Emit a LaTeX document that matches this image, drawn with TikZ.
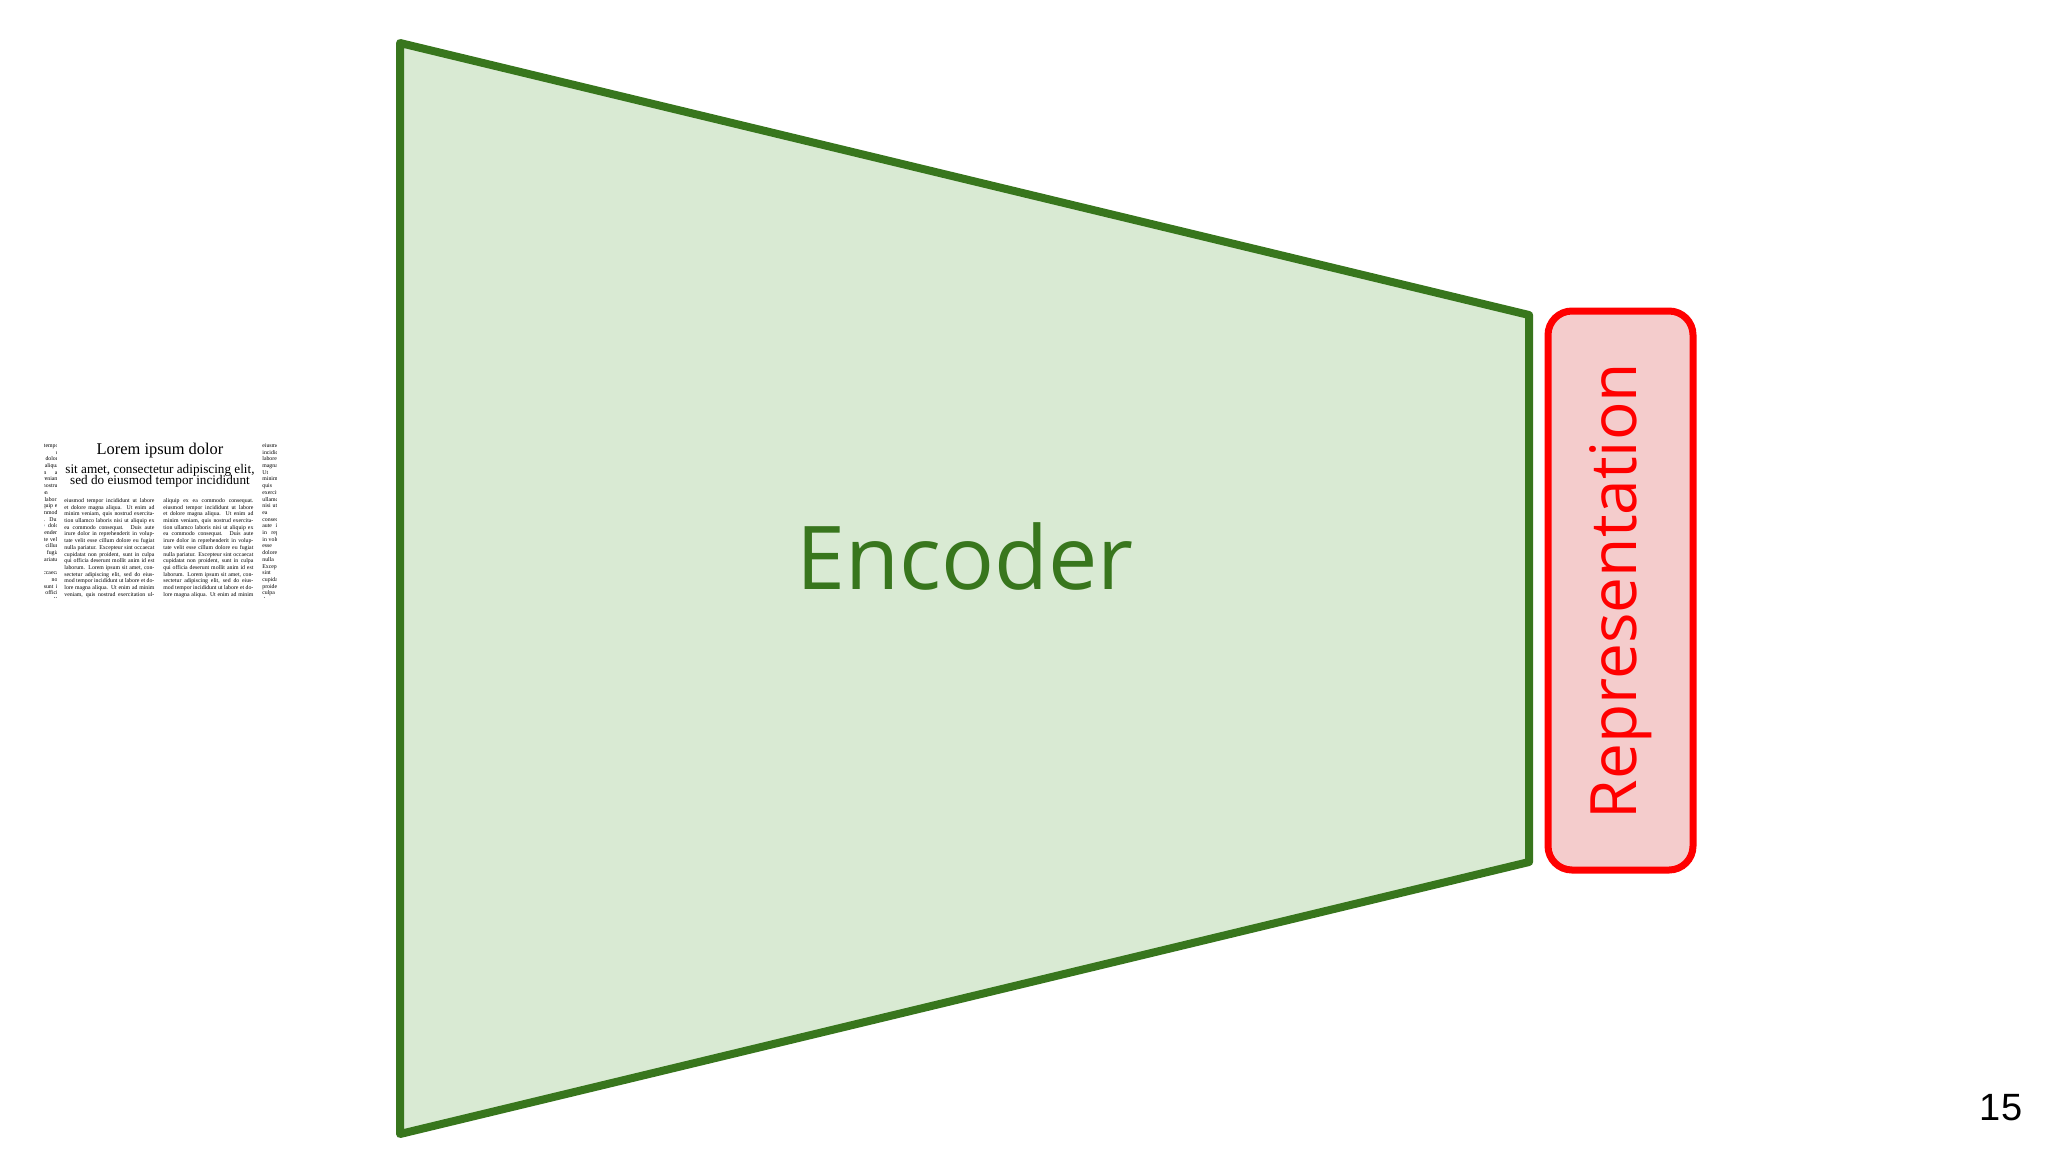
\documentclass[tikz,border=0pt]{standalone}
\usepackage{fontspec}
\setmainfont{Open Sans}
\newfontfamily\serifdoc{Liberation Serif}
\newfontfamily\numfont{Liberation Sans}
\definecolor{encgreen}{HTML}{38761D}
\definecolor{encfill}{HTML}{D9EAD3}
\definecolor{repred}{HTML}{FF0000}
\definecolor{repfill}{HTML}{F4CCCC}
\newcommand{\lorembody}{eiusmod tempor incididunt ut labore et dolore magna aliqua. Ut enim ad minim veniam, quis nostrud exercitation ullamco laboris nisi ut aliquip ex ea commodo consequat. Duis aute irure dolor in reprehenderit in voluptate velit esse cillum dolore eu fugiat nulla pariatur. Excepteur sint occaecat cupidatat non proident, sunt in culpa qui officia deserunt mollit anim id est laborum. Lorem ipsum sit amet, consectetur adipiscing elit, sed do eiusmod tempor incididunt ut labore et dolore magna aliqua. Ut enim ad minim veniam, quis nostrud exercitation ullamco laboris nisi ut aliquip ex ea commodo consequat. Duis aute irure dolor}
\tikzset{
  encoder/.style={draw=encgreen,fill=encfill,line width=4pt,line join=round},
  repbox/.style={draw=repred,fill=repfill,line width=3.5pt,rounded corners=12pt},
  coltext/.style={inner sep=0pt,anchor=north west,font=\serifdoc\fontsize{2.9}{3.35}\selectfont,text width=45pt,align=justify}
}
\begin{document}
\begin{tikzpicture}[x=0.5pt,y=-0.5pt]
\useasboundingbox (0,0) rectangle (2048,1152);
\fill[white] (0,0) rectangle (2048,1152);
\draw[encoder] (400,43) -- (1529,315) -- (1529,862) -- (400,1134) -- cycle;
\node[font=\fontsize{44}{50}\selectfont,text=encgreen] (enc) at (965,556) {Encoder};
\draw[repbox] (1548,311) rectangle (1693,870);
\node[rotate=90,font=\fontsize{32}{38}\selectfont,text=repred] (rep) at (1621,591) {Representation};
\node[font=\numfont\fontsize{19}{22}\selectfont] (num) at (2001,1108) {15};
% document thumbnail
\node[font=\serifdoc\fontsize{8.2}{9}\selectfont] (title) at (160,451) {Lorem ipsum dolor};
\node[font=\serifdoc\fontsize{6.6}{8}\selectfont,align=center] (sub) at (160,476) {sit amet, consectetur adipiscing elit,\\[-2.5pt] sed do eiusmod tempor incididunt};
\begin{scope}
\clip (44,440) rectangle (276,597);
\node[coltext] (c1) at (64,498) {\lorembody};
\node[coltext] (c2) at (163,498) {aliquip ex ea commodo consequat. \lorembody};
\node[coltext,text width=20pt] (c0) at (20,443) {\lorembody};
\node[coltext,text width=20pt] (c3) at (262,443) {\lorembody};
\end{scope}
\fill[white] (57,440) rectangle (63,600);
\fill[white] (255,440) rectangle (261,600);
\fill[white] (57,440) rectangle (261,497);
\node[font=\serifdoc\fontsize{8.2}{9}\selectfont] at (160,451) {Lorem ipsum dolor};
\node[font=\serifdoc\fontsize{6.6}{8}\selectfont,align=center] at (160,476) {sit amet, consectetur adipiscing elit,\\[-2.5pt] sed do eiusmod tempor incididunt};
\end{tikzpicture}
\end{document}
